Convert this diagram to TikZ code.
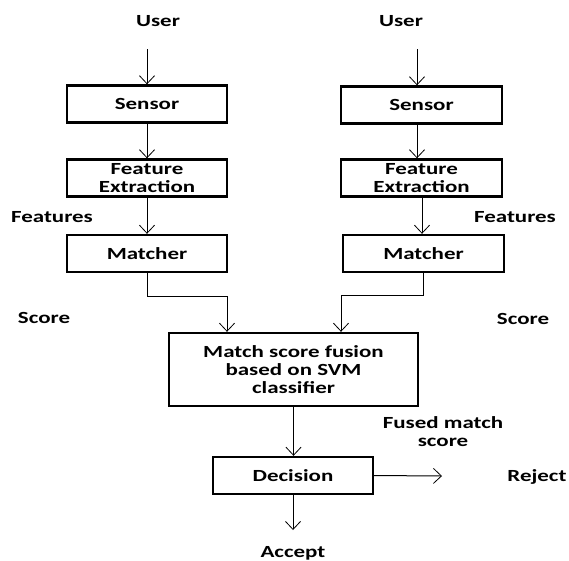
\documentclass[tikz,border=0pt]{standalone}
\usepackage{fontspec}
\setmainfont{Carlito}[FakeStretch=1.35]
\usetikzlibrary{arrows.meta}

\tikzset{
  blk/.style={draw, line width=2.4pt, minimum width=160pt, minimum height=37pt,
    inner sep=0pt, align=center, font=\bfseries\fontsize{17}{18}\selectfont},
  lbl/.style={inner sep=0pt, align=center, font=\bfseries\fontsize{17}{18}\selectfont},
  flow/.style={line width=1pt, arrows={-Straight Barb[length=8pt,width=15pt,line width=0.8pt]}}
}

\begin{document}
\begin{tikzpicture}[x=1pt, y=-1pt]

      \useasboundingbox (0,0) rectangle (569,560);

      % left chain
      \node[lbl] (usr1) at (158,21) {User};
      \node[blk] (sen1) at (147,104) {Sensor};
      \node[blk] (fea1) at (147,178) {Feature\\Extraction};
      \node[blk] (mat1) at (147,253.5) {Matcher};
      \node[lbl] (ftr1) at (52,217) {Features};
      \node[lbl] (sco1) at (44,318) {Score};

      % right chain
      \node[lbl] (usr2) at (401,21) {User};
      \node[blk, minimum width=161pt] (sen2) at (421.5,105) {Sensor};
      \node[blk, minimum width=161pt] (fea2) at (421.5,178) {Feature\\Extraction};
      \node[blk, minimum width=161pt] (mat2) at (423.5,253.5) {Matcher};
      \node[lbl] (ftr2) at (515,217) {Features};
      \node[lbl] (sco2) at (523,319) {Score};

      % fusion and decision
      \node[blk, minimum width=249pt, minimum height=73pt] (fus) at (293.5,369.5)
        {Match score fusion\\based on SVM\\classifier};
      \node[lbl] (fms) at (443,432) {Fused match\\score};
      \node[blk] (dec) at (293,475.5) {Decision};
      \node[lbl] (rjt) at (537,477) {Reject};
      \node[lbl] (acp) at (293,553) {Accept};

      \coordinate (in1) at (147,49);
      \coordinate (in2) at (417,49);
      \coordinate (out1) at (442,476);
      \coordinate (out2) at (293,530);

      \draw[flow] (in1) -- (in1 |- sen1.north);
      \draw[flow] (sen1) -- (fea1);
      \draw[flow] (fea1) -- (mat1);
      \draw[flow] (mat1.south) -- ++(0,23.5) -| ([xshift=-66.5pt]fus.north);

      \draw[flow] (in2) -- (in2 |- sen2.north);
      \draw[flow] (in2 |- sen2.south) -- (in2 |- fea2.north);
      \draw[flow] ([xshift=0.5pt]fea2.south) -- ([xshift=0.5pt]fea2.south |- mat2.north);
      \draw[flow] (mat2.south) -- ++(0,22) -| ([xshift=47.5pt]fus.north);

      \draw[flow] (fus.south) -- (fus.south |- dec.north);
      \draw[flow] (dec.east) -- (out1);
      \draw[flow] (dec.south) -- (out2);
    \end{tikzpicture}
\end{document}
